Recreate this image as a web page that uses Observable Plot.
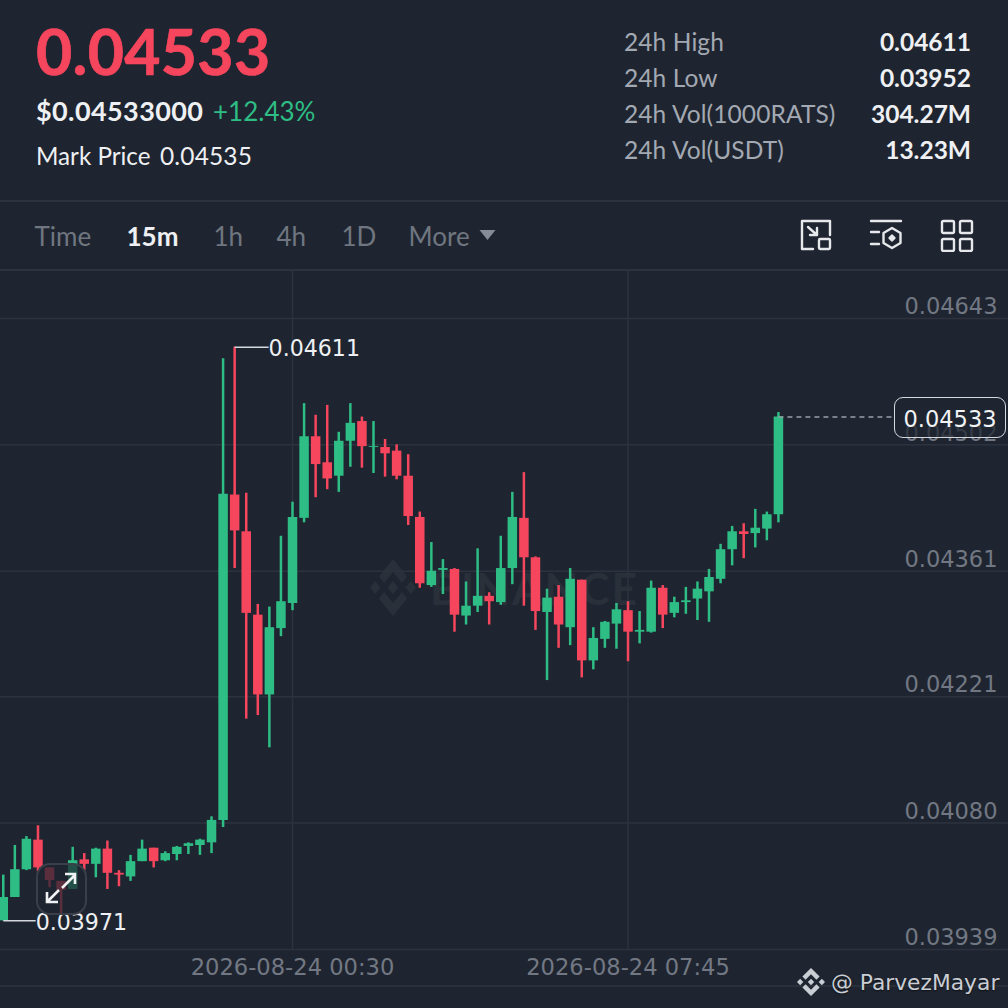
<!DOCTYPE html>
<html>
<head>
<meta charset="utf-8">
<script src="https://cdn.jsdelivr.net/npm/d3@7"></script>
<script src="https://cdn.jsdelivr.net/npm/@observablehq/plot@0.6"></script>
<style>
  html,body{margin:0;padding:0;width:1008px;height:1008px;background:#1f2530;overflow:hidden;font-family:Lato,sans-serif}
  #page{position:relative;width:1008px;height:1008px;overflow:hidden}
  .t{position:absolute;white-space:nowrap;line-height:1;transform:translateY(-50%)}
  .line{position:absolute;left:0;width:1008px;height:1.5px;background:#2d333e}
  #chart{position:absolute;left:0;top:270px;z-index:1}
  #chart svg{display:block;background:transparent}
  .abs{position:absolute}
</style>
</head>
<body>
<div id="page"></div>
<script>
// ---- Candles, 15 minute interval, left to right ----
const firstCandle = "2026-08-23T18:15:00Z";
const candleMinutes = 15;
const open  = [.03971,.03997,.04028,.04061,.04030,.04015,.04006,.04039,.04034,.04051,.04024,.04020,.04037,.04052,.04038,.04045,.04054,.04055,.04058,.04083,.04446,.04405,.04312,.04223,.04297,.04325,.04420,.04511,.04482,.04467,.04506,.04528,.04499,.04499,.04495,.04467,.04421,.04345,.04362,.04363,.04311,.04322,.04333,.04326,.04364,.04420,.04376,.04315,.04332,.04298,.04351,.04261,.04285,.04302,.04317,.04293,.04293,.04342,.04314,.04326,.04330,.04338,.04352,.04385,.04405,.04403,.04408,.04424];
const close = [.03997,.04028,.04062,.04030,.04016,.04005,.04038,.04034,.04051,.04024,.04022,.04037,.04051,.04037,.04046,.04053,.04057,.04061,.04083,.04447,.04406,.04314,.04223,.04298,.04327,.04421,.04511,.04480,.04464,.04506,.04526,.04500,.04500,.04492,.04467,.04422,.04347,.04361,.04364,.04312,.04322,.04333,.04327,.04364,.04421,.04376,.04316,.04331,.04301,.04352,.04261,.04286,.04304,.04318,.04293,.04295,.04342,.04312,.04326,.04328,.04341,.04354,.04385,.04405,.04402,.04409,.04424,.04533];
const high  = [.04022,.04055,.04065,.04077,.04030,.04015,.04053,.04046,.04052,.04060,.04027,.04044,.04061,.04052,.04048,.04054,.04058,.04062,.04087,.04598,.04611,.04448,.04324,.04321,.04400,.04438,.04548,.04535,.04546,.04516,.04548,.04533,.04528,.04508,.04502,.04491,.04427,.04393,.04374,.04364,.04349,.04386,.04337,.04400,.04449,.04471,.04377,.04341,.04345,.04364,.04351,.04298,.04305,.04325,.04327,.04316,.04350,.04345,.04332,.04343,.04349,.04363,.04391,.04411,.04414,.04430,.04427,.04538];
const low   = [.03971,.03997,.04027,.04026,.04008,.03979,.04006,.04027,.04019,.04006,.04009,.04015,.04037,.04030,.04037,.04038,.04045,.04044,.04046,.04075,.04364,.04196,.04200,.04164,.04288,.04317,.04415,.04443,.04452,.04449,.04477,.04476,.04470,.04466,.04463,.04412,.04342,.04343,.04335,.04293,.04301,.04315,.04301,.04323,.04346,.04322,.04295,.04239,.04275,.04278,.04242,.04251,.04275,.04274,.04260,.04280,.04292,.04297,.04309,.04313,.04306,.04304,.04347,.04367,.04375,.04387,.04395,.04415];

// ---- Axis ticks and annotations ----
const priceTicks = [.04643,.04502,.04361,.04221,.04080,.03939];
const timeTicks = ["2026-08-24T00:30:00Z","2026-08-24T07:45:00Z"];
const xDomain = ["2026-08-23T18:11:24Z","2026-08-24T15:58:18Z"];
const yDomain = [.03939,.046965];
const highLabel = {price:.04611, leadMinutes:44, text:"0.04611"};
const lowLabel  = {price:.03971, leadMinutes:42, text:"0.03971"};
const lastPrice = .04533;

// ---- Header text ----
const headline = "0.04533";
const usdPrice = "$0.04533000";
const change = "+12.43%";
const markLabel = "Mark Price";
const markPrice = "0.04535";
const statLabels = ["24h High","24h Low","24h Vol(1000RATS)","24h Vol(USDT)"];
const statValues = ["0.04611","0.03952","304.27M","13.23M"];
const tabs = ["Time","15m","1h","4h","1D","More"];

const GREEN = "#2ebd85", RED = "#f6465d", GRID = "#2d333e", AXIS = "#727883", LABEL = "#eef0f3";
const CANVAS_FONT = "'DejaVu Sans',sans-serif";

const page = document.getElementById("page");
function text(x, y, s, style, right){
  const e = document.createElement("div");
  e.className = "t"; e.textContent = s;
  e.style.cssText = (right ? `right:${1008-x}px;` : `left:${x}px;`) + `top:${y}px;` + style;
  page.appendChild(e); return e;
}
function raw(html){ const w=document.createElement("div"); w.innerHTML=html; const e=w.firstElementChild; page.appendChild(e); return e; }

// header
text(36,49.5,headline,`font:700 62.5px Lato;color:${RED};letter-spacing:.3px;-webkit-text-stroke:.7px ${RED}`);
text(36,110,usdPrice,`font:700 27px Lato;color:${LABEL};letter-spacing:.4px`);
text(213,110.5,change,`font:400 26px Lato;color:${GREEN}`);
text(36,154.5,markLabel,`font:400 24.2px Lato;color:${LABEL}`);
text(160,154.5,markPrice,`font:400 24.5px Lato;color:${LABEL};letter-spacing:.15px`);
const statY=[40.5,76.5,112.5,148.5];
statLabels.forEach((s,i)=>text(624,statY[i],s,`font:400 24.5px Lato;color:#a3a9b2;letter-spacing:.1px`));
statValues.forEach((s,i)=>text(971,statY[i],s,`font:700 24.5px Lato;color:${LABEL}`,true));

// toolbar
raw(`<div class="line" style="top:200px"></div>`);
raw(`<div class="line" style="top:269px"></div>`);
const tabX=[34.5,126.5,213.5,276.5,341.5,408.5];
tabs.forEach((s,i)=>text(tabX[i],236,s,i===1?`font:700 26px Lato;color:${LABEL}`:`font:400 26px Lato;color:#6f7680`));
raw(`<svg class="abs" style="left:479px;top:229px" width="17" height="12"><path d="M0.5 1h16l-8 10z" fill="#868c96"/></svg>`);
const ic=`fill="none" stroke="#e6e8ec" stroke-width="2.4" stroke-linejoin="round" stroke-linecap="round"`;
raw(`<svg class="abs" style="left:800px;top:218px" width="34" height="34" ${ic}><path d="M30 17V3H2V31H13"/><rect x="19" y="21" width="11" height="10" rx="1.2"/><path d="M8 9l9 8M17 10v7H10"/></svg>`);
raw(`<svg class="abs" style="left:869px;top:218px" width="34" height="34" ${ic}><path d="M2 3h30M2 14h8M2 26h8"/><path d="M23 10l8.5 5v10l-8.5 5-8.5-5V15z"/><path d="M23 17.5l2.5 2.5-2.5 2.5-2.5-2.5z" fill="#e6e8ec"/></svg>`);
raw(`<svg class="abs" style="left:939.5px;top:218px" width="34" height="34" ${ic}><rect x="2" y="3" width="12" height="12" rx="1.5"/><rect x="20" y="3" width="12" height="12" rx="1.5"/><rect x="2" y="21" width="12" height="12" rx="1.5"/><rect x="20" y="21" width="12" height="12" rx="1.5"/></svg>`);

// watermark behind the candles
const BNB="M12.116 14.404L16 10.52l3.886 3.886 2.26-2.26L16 6l-6.144 6.144 2.26 2.26zM6 16l2.26-2.26L10.52 16l-2.26 2.26L6 16zm6.116 1.596L16 21.48l3.886-3.886 2.26 2.259L16 26l-6.144-6.144-.003-.003 2.263-2.257zM21.48 16l2.26-2.26L26 16l-2.26 2.26L21.48 16zm-3.188-.002h.002V16L16 18.294l-2.291-2.29-.004-.004.004-.003.401-.402.195-.195L16 13.706l2.293 2.293z";
raw(`<svg class="abs" style="left:370px;top:559px" width="46" height="57" viewBox="6 6 20 20" preserveAspectRatio="none"><path d="${BNB}" fill="#2a303a"/></svg>`);
text(430,588,"BINANCE",`font:700 44px Lato;color:#2a303a;letter-spacing:2px`);

// candles
const t0 = +new Date(firstCandle);
const candles = open.map((o,i)=>({
  time:new Date(t0+i*candleMinutes*60000), open:o, close:close[i], high:high[i], low:low[i],
  dir: close[i]>=o ? "up":"down"
}));
const tHigh = candles.find(d=>d.high===highLabel.price).time;
const tLow  = candles.find(d=>d.low===lowLabel.price).time;
const plus = (d,m)=>new Date(+d+m*60000);
const lastTime = candles[candles.length-1].time;

const chart = Plot.plot({
  width:1008, height:738,
  marginLeft:0, marginRight:0, marginTop:0, marginBottom:59,
  style:{background:"transparent",color:AXIS,fontFamily:CANVAS_FONT},
  x:{type:"utc",domain:xDomain.map(d=>new Date(d)),label:null},
  y:{domain:yDomain,label:null},
  color:{domain:["up","down"],range:[GREEN,RED]},
  marks:[
    Plot.ruleY(priceTicks,{stroke:GRID,strokeWidth:1.5}),
    Plot.ruleX(timeTicks.map(d=>new Date(d)),{stroke:GRID,strokeWidth:1.5}),
    Plot.axisX({ticks:timeTicks.map(d=>new Date(d)),tickSize:0,tickPadding:9,label:null,fontSize:22.6,
      tickFormat:d=>d3.utcFormat("%Y-%m-%d %H:%M")(d)}),
    Plot.axisY({ticks:priceTicks,anchor:"right",tickSize:0,tickPadding:-11,textAnchor:"end",dy:-11.5,label:null,fontSize:22.5,
      tickFormat:d3.format(".5f")}),
    Plot.ruleX(candles,{x:"time",y1:"low",y2:"high",stroke:"dir",strokeWidth:2.5}),
    Plot.ruleX(candles,{x:"time",y1:"open",y2:"close",stroke:"dir",strokeWidth:9.5}),
    Plot.link([highLabel],{x1:()=>tHigh,x2:d=>plus(tHigh,d.leadMinutes),y1:"price",y2:"price",stroke:"#d5d8dd",strokeWidth:1.5}),
    Plot.text([highLabel],{x:d=>plus(tHigh,d.leadMinutes),y:"price",text:"text",textAnchor:"start",dy:2,fill:"#eef0f3",fontSize:22.1}),
    Plot.link([lowLabel],{x1:()=>tLow,x2:d=>plus(tLow,d.leadMinutes),y1:"price",y2:"price",stroke:"#d5d8dd",strokeWidth:1.5}),
    Plot.text([lowLabel],{x:d=>plus(tLow,d.leadMinutes),y:"price",text:"text",textAnchor:"start",dy:2,fill:"#eef0f3",fontSize:22.1}),
    Plot.link([lastPrice],{x1:()=>lastTime,x2:()=>plus(lastTime,150),y1:d=>d,y2:d=>d,stroke:"#9aa0a9",strokeWidth:1.5,strokeDasharray:"5 4"})
  ]
});
const holder=document.createElement("div"); holder.id="chart"; holder.appendChild(chart); page.appendChild(holder);

// overlays above the chart
raw(`<div class="line" style="top:985px;z-index:2;background:#2a303a"></div>`);
raw(`<div class="abs" style="z-index:3;left:36px;top:863px;width:47px;height:48px;border:2px solid #3a3f4a;border-radius:14px;background:rgba(31,37,48,.72)"></div>`);
raw(`<svg class="abs" style="z-index:4;left:44px;top:871px" width="34" height="36" fill="none" stroke="#f0f1f3" stroke-width="2.6"><path d="M18 17L31 4M21 3h10v10M15 19L3 31M3 21v10h11"/></svg>`);
const box=raw(`<div class="abs" style="z-index:5;left:894px;top:397px;width:110px;height:39px;border:1.5px solid #d5d8dd;border-radius:9px;background:rgba(31,37,48,.72);text-align:center;font:22.5px/42px ${CANVAS_FONT};color:#f2f3f5"></div>`);
box.textContent=d3.format(".5f")(lastPrice);
raw(`<svg class="abs" style="z-index:6;left:797px;top:968px" width="28" height="28" viewBox="6 6 20 20"><path d="${BNB}" fill="#c9cdd4"/></svg>`);
text(831,982,"@ ParvezMayar",`z-index:6;font:21.8px ${CANVAS_FONT};color:#c9cdd4;text-shadow:0 1px 2px rgba(0,0,0,.6)`);
</script>
</body>
</html>
